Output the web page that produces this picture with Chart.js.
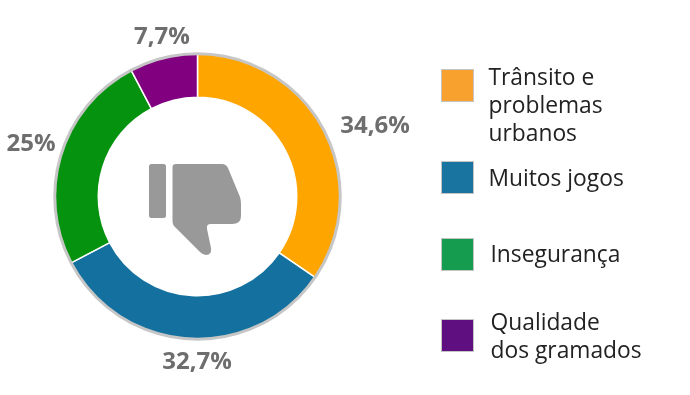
<!DOCTYPE html>
<html>
<head>
<meta charset="utf-8">
<script src="https://cdn.jsdelivr.net/npm/chart.js@4"></script>
<style>
  html, body { margin: 0; padding: 0; background: #fff; }
  #box { position: relative; width: 690px; height: 395px; overflow: hidden; font-family: "Open Sans", sans-serif; }
  #grafico { position: absolute; left: 0; top: 0; }
  #icone { position: absolute; left: 0; top: 0; }
  .quad { position: absolute; width: 31px; height: 31px; border: 1.5px solid #c4c4c4; }
  .txt { position: absolute; font-size: 22.8px; line-height: 28px; color: #222; white-space: pre; }
</style>
</head>
<body>
<div id="box">
  <canvas id="grafico" width="690" height="395"></canvas>
  <svg id="icone" width="690" height="395">
    <rect x="149" y="164" width="17" height="54" rx="2.5" fill="#999"/>
    <path d="M176 164 L222 164 Q226 164 228 168 L240 197 Q241 200 241 204 L241 216 Q241 224 232 224 L211 224 Q206 224 207 229 L211 248 Q212 255 206 255 Q203 255 200 252 L174 226 Q172.5 224 172.5 221 L172.5 167 Q172.5 164 176 164 Z" fill="#999"/>
  </svg>
  <div id="legenda"></div>
</div>
<script>
//Werte
const categorias = ["Trânsito e\nproblemas\nurbanos", "Muitos jogos", "Insegurança", "Qualidade\ndos gramados"];
const valores = [34.6, 32.7, 25, 7.7];
const rotulos = ["34,6%", "32,7%", "25%", "7,7%"];
const cores = ["#ffa500", "#14719f", "#05930f", "#800080"];
const coresLegenda = ["#f9a12e", "#1a74a0", "#169c4e", "#5f0f7f"];

//Position der Prozentwerte und der Legende
const rotuloX = [375, 197, 31, 162];
const rotuloY = [126, 362, 144, 37];
const quadY = [69, 161, 238, 319];
const textoX = [488.5, 488.5, 490.5, 490.5];
const textoY = [63, 164, 240, 308];

//Grauer Ring und Prozentwerte
const anelPlugin = {
  id: "anel",
  afterDatasetsDraw(chart) {
    let ctx = chart.ctx;
    let arco = chart.getDatasetMeta(0).data[0];
    ctx.save();
    ctx.beginPath();
    ctx.arc(arco.x, arco.y, arco.outerRadius, 0, Math.PI * 2);
    ctx.strokeStyle = "#c6c6c6";
    ctx.lineWidth = 3;
    ctx.stroke();
    ctx.font = "bold 24px 'Open Sans'";
    ctx.fillStyle = "#6e6e6e";
    ctx.textAlign = "center";
    ctx.textBaseline = "middle";
    rotulos.forEach(function(r, i) {
      ctx.fillText(r, rotuloX[i], rotuloY[i]);
    });
    ctx.restore();
  }
};

new Chart(document.getElementById("grafico"), {
  type: "doughnut",
  data: {
    labels: categorias,
    datasets: [{
      data: valores,
      backgroundColor: cores,
      borderColor: "#fff",
      borderWidth: 1.5
    }]
  },
  options: {
    responsive: false,
    animation: false,
    cutout: "69.5%",
    layout: { padding: { left: 54, right: 349, top: 53, bottom: 55 } },
    plugins: { legend: { display: false }, tooltip: { enabled: false } }
  },
  plugins: [anelPlugin]
});

//Legende
let legendaEl = document.getElementById("legenda");
categorias.forEach(function(c, i) {
  let q = document.createElement("div");
  q.className = "quad";
  q.style.left = "441px";
  q.style.top = quadY[i] + "px";
  q.style.background = coresLegenda[i];
  legendaEl.appendChild(q);
  let t = document.createElement("div");
  t.className = "txt";
  t.style.left = textoX[i] + "px";
  t.style.top = textoY[i] + "px";
  t.textContent = c;
  legendaEl.appendChild(t);
});
</script>
</body>
</html>
